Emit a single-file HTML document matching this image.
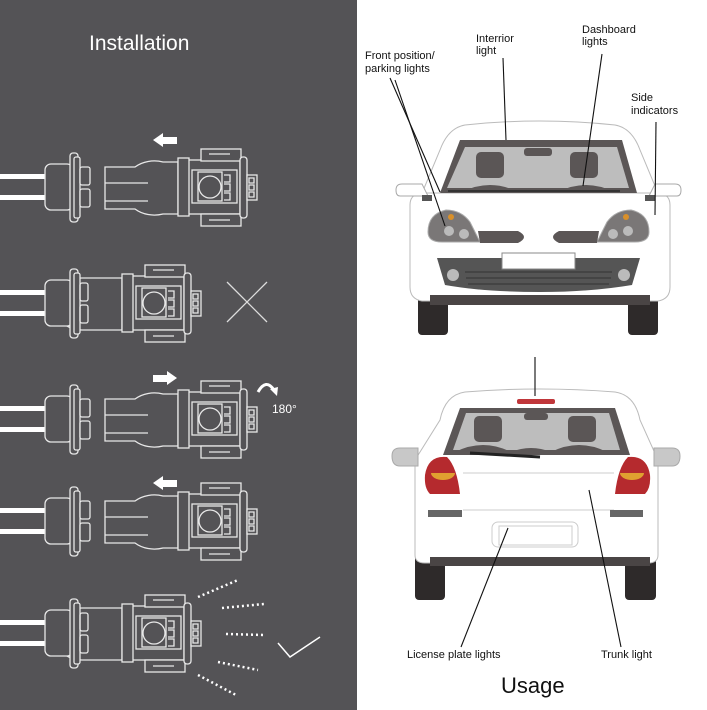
<!DOCTYPE html>
<html><head><meta charset="utf-8"><style>
html,body{margin:0;padding:0;background:#fff}
svg{display:block}
text{font-family:"Liberation Sans",sans-serif}
</style></head><body>
<svg width="707" height="710" viewBox="0 0 707 710" xmlns="http://www.w3.org/2000/svg">
<defs>
<g id="sock" fill="#545356" stroke="#e8e8e8" stroke-width="1.3">
  <rect x="0" y="-13" width="46" height="5" fill="#fff" stroke="none"/>
  <rect x="0" y="8" width="46" height="5" fill="#fff" stroke="none"/>
  <rect x="45" y="-23" width="28" height="46" rx="6"/>
  <rect x="70" y="-34" width="8" height="69" rx="3"/>
  <rect x="74" y="-30" width="6" height="61" rx="2"/>
  <rect x="80" y="-20" width="10" height="18" rx="2"/>
  <rect x="80" y="2" width="10" height="18" rx="2"/>
</g>
<g id="sockfront" fill="#545356" stroke="#e8e8e8" stroke-width="1.3">
  <rect x="0" y="-13" width="46" height="5" fill="#fff" stroke="none"/>
  <rect x="0" y="8" width="46" height="5" fill="#fff" stroke="none"/>
  <rect x="45" y="-23" width="28" height="46" rx="6"/>
  <rect x="70" y="-34" width="8" height="69" rx="3"/>
  <rect x="74" y="-30" width="6" height="61" rx="2"/>
  <rect x="80" y="-20" width="8" height="18" rx="2" fill="none"/>
  <rect x="80" y="2" width="8" height="18" rx="2" fill="none"/>
</g>
<g id="bulbhead" fill="#545356" stroke="#e8e8e8" stroke-width="1.3">
  <rect x="10" y="-27" width="52" height="54"/>
  <rect x="23" y="-38" width="40" height="12"/>
  <rect x="23" y="27" width="40" height="12"/>
  <line x1="31" y1="-33" x2="52" y2="-33"/>
  <line x1="31" y1="33" x2="52" y2="33"/>
  <rect x="14" y="-17" width="45" height="33"/>
  <rect x="20" y="-15" width="24" height="29"/>
  <circle cx="32" cy="0" r="11"/>
  <path d="M46,-12 h6 v7 h-6 M46,-3 h6 v7 h-6 M46,6 h6 v7 h-6"/>
  <rect x="0" y="-29" width="11" height="58" fill="#545356"/>
  <rect x="62" y="-30" width="7" height="61" rx="3"/>
  <rect x="69" y="-12" width="10" height="25"/>
  <path d="M71,-9 h5 v5 h-5 z M71,-2 h5 v5 h-5 z M71,5 h5 v5 h-5 z"/>
</g>
<g id="bulb">
  <g fill="#545356" stroke="#e8e8e8" stroke-width="1.3">
  <path d="M-73,-20 h30 a28,22 0 0 1 28,-5 h15 v52 h-15 a28,22 0 0 1 -28,-5 h-30 z"/>
  <line x1="-73" y1="-4" x2="-30" y2="-4"/>
  <line x1="-73" y1="14" x2="-30" y2="14"/>
  </g>
  <use href="#bulbhead"/>
</g>
<g id="bulbin" fill="#545356" stroke="#e8e8e8" stroke-width="1.3">
  <path d="M-40,-25 h25 h15 v52 h-15 h-25 a28,26 0 0 1 0,-52 z"/>
</g>
<path id="arrL" d="M0,0 l10,-7 v4 h14 v7 h-14 v3 z" fill="#fff"/>
</defs>

<rect x="0" y="0" width="357" height="710" fill="#545356"/>
<text x="89" y="50" font-size="21" fill="#fff">Installation</text>

<!-- row1 -->
<use href="#sock" y="187"/><use href="#bulb" x="178" y="187"/>
<use href="#arrL" x="153" y="140"/>
<!-- row2 -->
<use href="#bulbin" x="122" y="303"/><use href="#sockfront" y="303"/><use href="#bulbhead" x="122" y="303"/>
<path d="M227,282 L267,322 M267,282 L227,322" stroke="#ddd" stroke-width="1.3"/>
<!-- row3 -->
<use href="#sock" y="419"/><use href="#bulb" x="178" y="419"/>
<use href="#arrL" transform="translate(177,378) scale(-1,1)"/>
<path d="M258,392 q8,-14 16,-2" stroke="#fff" stroke-width="3" fill="none"/>
<path d="M270,389 l8,-2 l-1,9 z" fill="#fff"/>
<text x="272" y="413" font-size="12" fill="#fff">180°</text>
<!-- row4 -->
<use href="#sock" y="521"/><use href="#bulb" x="178" y="521"/>
<use href="#arrL" x="153" y="483"/>
<!-- row5 -->
<use href="#bulbin" x="122" y="633"/><use href="#sockfront" y="633"/><use href="#bulbhead" x="122" y="633"/>
<g stroke="#fff" stroke-width="2.5" stroke-dasharray="2,3" fill="none">
<path d="M198,597 L238,580"/><path d="M222,608 L264,604"/><path d="M226,634 L264,635"/><path d="M218,662 L258,670"/><path d="M198,675 L236,695"/>
</g>
<path d="M278,643 L290,657 L320,637" stroke="#fff" stroke-width="1.5" fill="none"/>

<!-- FRONT CAR -->
<g stroke="#bbb" stroke-width="1">
<path d="M440,150 q8,-22 25,-25 q75,-8 150,0 q17,3 25,25 l25,60 v85 h-250 v-85 z" fill="#fff"/>
</g>
<rect x="418" y="290" width="30" height="45" rx="4" fill="#2e2a2a"/>
<rect x="628" y="290" width="30" height="45" rx="4" fill="#2e2a2a"/>
<path d="M410,205 q0,-10 10,-12 h240 q10,2 10,12 v82 q0,12 -12,14 h-236 q-12,-2 -12,-14 z" fill="#fff" stroke="#bbb"/>
<rect x="430" y="295" width="220" height="10" fill="#4a4545"/>
<path d="M460,140 H622 L637,193 H440 Z" fill="#5b5656"/>
<path d="M465,147 H617 L629,188 H447 Z" fill="#bdbdbd"/>
<rect x="524" y="148" width="28" height="8" rx="3" fill="#5b5656"/>
<rect x="476" y="152" width="28" height="26" rx="5" fill="#5b5656"/>
<rect x="570" y="152" width="28" height="26" rx="5" fill="#5b5656"/>
<path d="M462,192 q28,-14 56,0 q20,-8 40,0 q28,-14 56,0 z" fill="#5b5656"/>
<path d="M448,191 L620,191" stroke="#333" stroke-width="2"/>
<path d="M396,190 q0,-6 6,-6 h20 l6,12 h-28 q-4,0 -4,-6 z" fill="#fff" stroke="#aaa"/>
<path d="M681,190 q0,-6 -6,-6 h-20 l-6,12 h28 q4,0 4,-6 z" fill="#fff" stroke="#aaa"/>
<rect x="422" y="195" width="10" height="6" fill="#555"/><rect x="645" y="195" width="10" height="6" fill="#555"/>
<path d="M428,232 q0,-18 18,-22 q15,0 24,12 l10,20 h-38 q-14,0 -14,-10 z" fill="#7a7777" stroke="#aaa"/>
<path d="M649,232 q0,-18 -18,-22 q-15,0 -24,12 l-10,20 h38 q14,0 14,-10 z" fill="#7a7777" stroke="#aaa"/>
<path d="M478,231 h40 q12,6 0,12 h-38 z M599,231 h-40 q-12,6 0,12 h38 z" fill="#5b5656"/>
<circle cx="451" cy="217" r="3" fill="#d9902a"/><circle cx="626" cy="217" r="3" fill="#d9902a"/>
<circle cx="449" cy="231" r="5" fill="#bbb"/><circle cx="464" cy="234" r="5" fill="#bbb"/>
<circle cx="613" cy="234" r="5" fill="#bbb"/><circle cx="628" cy="231" r="5" fill="#bbb"/>
<path d="M437,258 H640 L632,285 Q590,292 540,292 Q485,292 445,285 Z" fill="#555"/>
<circle cx="453" cy="275" r="6" fill="#bbb"/><circle cx="624" cy="275" r="6" fill="#bbb"/>
<g stroke="#333" stroke-width="1"><path d="M465,272 H612 M466,278 H611 M468,284 H609"/></g>
<rect x="502" y="253" width="73" height="16" fill="#fff" stroke="#888"/>

<!-- REAR CAR -->
<rect x="415" y="550" width="30" height="50" rx="4" fill="#2e2a2a"/>
<rect x="625" y="550" width="31" height="50" rx="4" fill="#2e2a2a"/>
<path d="M440,420 q5,-25 25,-28 q75,-6 150,0 q20,3 25,28 l18,40 v95 q0,8 -10,8 h-223 q-10,0 -10,-8 v-95 z" fill="#fff" stroke="#bbb"/>
<rect x="430" y="557" width="220" height="9" fill="#4a4545"/>
<rect x="517" y="399" width="38" height="5" rx="2" fill="#c0363a"/>
<path d="M535,357 V396" stroke="#222" stroke-width="1.2"/>
<path d="M460,408 H615 L630,455 H443 Z" fill="#5b5656"/>
<path d="M466,413 H609 L620,450 H453 Z" fill="#bdbdbd"/>
<rect x="524" y="413" width="24" height="7" rx="3" fill="#5b5656"/>
<rect x="474" y="416" width="28" height="26" rx="5" fill="#5b5656"/>
<rect x="568" y="416" width="28" height="26" rx="5" fill="#5b5656"/>
<path d="M455,452 q28,-14 56,0 q20,-8 40,0 q28,-14 56,0 z" fill="#5b5656"/>
<path d="M470,453 L540,457" stroke="#222" stroke-width="3"/>
<path d="M463,473 H614 M463,510 H614" stroke="#ccc"/>
<path d="M425,475 q3,-20 22,-18 q10,10 13,37 h-30 q-6,-6 -5,-19 z" fill="#b52a2e"/>
<path d="M650,475 q-3,-20 -22,-18 q-10,10 -13,37 h30 q6,-6 5,-19 z" fill="#b52a2e"/>
<path d="M431,473 h24 a12,7 0 0 1 -24,0 z" fill="#e0a030"/>
<path d="M644,473 h-24 a12,7 0 0 0 24,0 z" fill="#e0a030"/>
<path d="M392,456 q0,-8 8,-8 h18 v18 h-18 q-8,0 -8,-10 z" fill="#c8c8c8" stroke="#aaa"/>
<path d="M680,456 q0,-8 -8,-8 h-18 v18 h18 q8,0 8,-10 z" fill="#c8c8c8" stroke="#aaa"/>
<rect x="428" y="510" width="34" height="7" fill="#666"/>
<rect x="610" y="510" width="33" height="7" fill="#666"/>
<rect x="492" y="522" width="86" height="25" rx="6" fill="none" stroke="#ccc"/>
<rect x="499" y="526" width="73" height="19" fill="#fff" stroke="#ccc"/>

<!-- leader lines -->
<g stroke="#111" stroke-width="1.1">
<path d="M390,78 L440,192"/><path d="M395,80 L445,226"/>
<path d="M503,58 L506,140"/><path d="M602,54 L583,186"/>
<path d="M656,122 L655,215"/>
<path d="M461,647 L508,528"/><path d="M621,647 L589,490"/>
</g>
<g font-size="11" fill="#111">
<text x="365" y="59">Front position/</text><text x="365" y="72">parking lights</text>
<text x="476" y="42">Interrior</text><text x="476" y="54">light</text>
<text x="582" y="33">Dashboard</text><text x="582" y="45">lights</text>
<text x="631" y="101">Side</text><text x="631" y="114">indicators</text>
<text x="407" y="658">License plate lights</text>
<text x="601" y="658">Trunk light</text>
</g>
<text x="501" y="693" font-size="22" fill="#111">Usage</text>
</svg>
</body></html>
